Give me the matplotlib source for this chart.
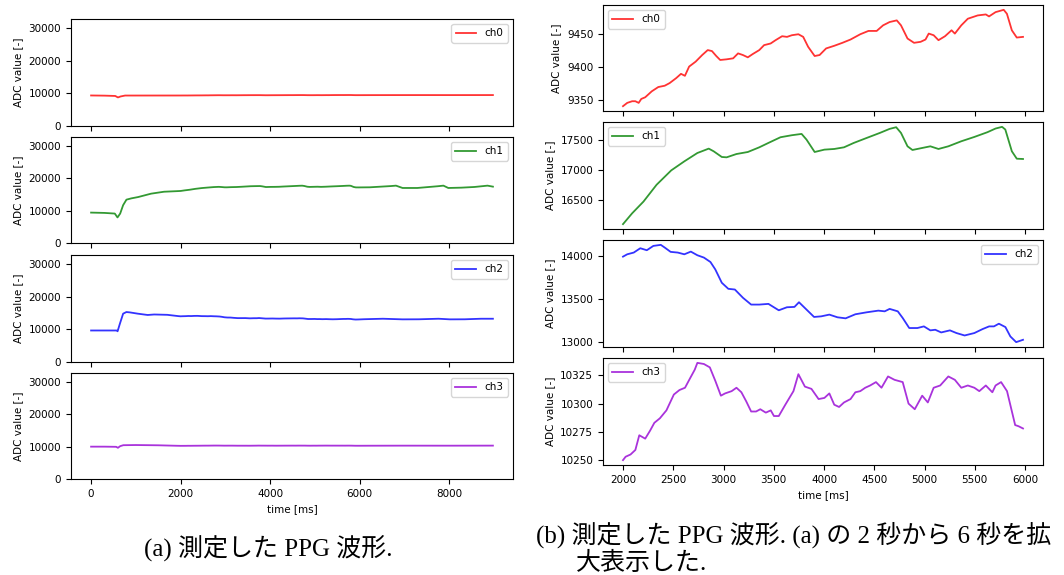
import matplotlib.pyplot as plt
from matplotlib.ticker import MultipleLocator

plt.rcParams['font.size'] = 7.5

# ---- 2000-6000 ms window, one time base per channel [ms] ----
t0_zoom = [2000, 2042, 2091, 2123, 2156, 2182, 2221, 2286, 2351, 2415, 2464, 2529, 2577, 2616, 2658,
           2723, 2788, 2843, 2885, 2928, 2967, 3031, 3096, 3145, 3193, 3242, 3291, 3356, 3404, 3469,
           3518, 3583, 3632, 3680, 3745, 3793, 3842, 3907, 3956, 4021, 4102, 4183, 4264, 4361, 4442,
           4524, 4588, 4653, 4724, 4766, 4831, 4896, 4961, 5010, 5042, 5091, 5139, 5204, 5269, 5302,
           5366, 5431, 5529, 5610, 5642, 5707, 5788, 5820, 5869, 5918, 5980]
ch0_zoom = [9340, 9345, 9347.5, 9347.5, 9345, 9351, 9353.5, 9362.5, 9369, 9371, 9375, 9382.5, 9389, 9386, 9400,
            9407.5, 9417.5, 9425, 9423.5, 9416, 9410, 9411, 9412.5, 9420, 9417.5, 9414, 9419, 9425, 9432.5, 9435,
            9440, 9446, 9445, 9447.5, 9449, 9445, 9430, 9416, 9417.5, 9427.5, 9431.5, 9436, 9441, 9449, 9454,
            9454, 9462.5, 9467.5, 9470, 9462.5, 9442.5, 9436, 9437.5, 9441, 9450, 9447.5, 9440, 9446, 9455, 9450,
            9462.5, 9472.5, 9477.5, 9479, 9476, 9482.5, 9486, 9480, 9455, 9444, 9445]

t1_zoom = [2000, 2091, 2204, 2334, 2480, 2610, 2740, 2853, 2902, 2983, 3031, 3129, 3242, 3356, 3453,
           3567, 3680, 3777, 3826, 3907, 4004, 4102, 4199, 4296, 4426, 4556, 4653, 4718, 4766, 4831,
           4880, 4977, 5058, 5139, 5237, 5366, 5496, 5626, 5707, 5772, 5804, 5869, 5918, 5980]
ch1_zoom = [16085, 16268, 16466, 16749, 16992, 17144, 17285, 17359, 17314, 17218, 17212, 17268, 17302, 17381, 17460,
            17551, 17585, 17607, 17511, 17302, 17342, 17353, 17381, 17455, 17540, 17624, 17692, 17720, 17624, 17398,
            17336, 17370, 17398, 17353, 17398, 17483, 17556, 17636, 17698, 17726, 17681, 17314, 17189, 17184]

t2_zoom = [2000, 2042, 2107, 2172, 2237, 2302, 2376, 2415, 2474, 2545, 2610, 2675, 2740, 2805, 2870,
           2918, 2983, 3048, 3113, 3194, 3275, 3356, 3447, 3550, 3631, 3706, 3751, 3826, 3901, 3972,
           4053, 4134, 4215, 4312, 4426, 4540, 4604, 4653, 4734, 4783, 4848, 4929, 4994, 5058, 5107,
           5166, 5253, 5318, 5399, 5496, 5578, 5643, 5691, 5740, 5805, 5854, 5912, 5980]
ch2_zoom = [13992, 14019, 14039, 14089, 14066, 14116, 14128, 14097, 14047, 14039, 14019, 14050, 14008, 13981, 13930,
            13845, 13690, 13620, 13612, 13516, 13438, 13438, 13446, 13372, 13407, 13411, 13465, 13380, 13295, 13302,
            13322, 13291, 13279, 13326, 13349, 13368, 13360, 13388, 13360, 13283, 13167, 13167, 13186, 13140, 13147,
            13116, 13140, 13109, 13081, 13109, 13155, 13186, 13186, 13217, 13178, 13070, 13004, 13031]

t3_zoom = [2000, 2026, 2075, 2123, 2162, 2221, 2269, 2312, 2367, 2432, 2506, 2562, 2617, 2659, 2714,
           2740, 2805, 2864, 2919, 2974, 3016, 3081, 3129, 3178, 3226, 3275, 3324, 3366, 3421, 3470,
           3502, 3550, 3615, 3696, 3745, 3810, 3875, 3946, 4004, 4053, 4102, 4150, 4199, 4264, 4312,
           4361, 4410, 4459, 4517, 4572, 4637, 4702, 4783, 4841, 4903, 4977, 5033, 5091, 5156, 5237,
           5302, 5366, 5431, 5496, 5545, 5610, 5675, 5707, 5762, 5821, 5902, 5935, 5980]
ch3_zoom = [10250, 10253, 10255, 10259, 10272, 10269, 10276, 10283, 10287, 10294, 10308, 10312, 10314, 10321, 10330,
            10336, 10335, 10332, 10320, 10307, 10309, 10311, 10314, 10310, 10302, 10293, 10293, 10295, 10292, 10294,
            10289, 10289, 10299, 10311, 10326, 10315, 10313, 10304, 10305, 10309, 10299, 10297, 10301, 10304, 10310,
            10311, 10314, 10316, 10319, 10314, 10324, 10321, 10319, 10300, 10295, 10307, 10301, 10314, 10316, 10324,
            10321, 10314, 10316, 10314, 10311, 10316, 10310, 10316, 10319, 10311, 10281, 10280, 10278]

# ---- rest of the full recording (before 2000 ms / after 6000 ms) ----
t0_head = [0, 300, 540, 600, 660, 760, 1000, 1500, 1900]
ch0_head = [9350, 9300, 9200, 8750, 9050, 9330, 9330, 9335, 9338]
t0_tail = [6200, 6800, 7400, 8000, 8600, 8980]
ch0_tail = [9455, 9465, 9470, 9465, 9470, 9475]

t1_head = [0, 300, 530, 590, 650, 716, 790, 900, 1050, 1340, 1630, 1920]
ch1_head = [9400, 9300, 9100, 7900, 9100, 11700, 13400, 13800, 14200, 15250, 15850, 16030]
t1_tail = [6230, 6700, 6814, 6961, 7290, 7750, 7874, 7983, 8276, 8568, 8860, 8980]
ch1_tail = [17220, 17600, 17730, 17010, 17010, 17550, 17730, 17010, 17110, 17320, 17730, 17420]

t2_head = [0, 570, 592, 643, 716, 789, 862, 1044, 1264, 1410, 1702, 1950]
ch2_head = [9650, 9650, 9400, 11700, 14800, 15300, 15200, 14800, 14400, 14550, 14450, 14050]
t2_tail = [6100, 6523, 6961, 7327, 7765, 8020, 8350, 8715, 8980]
ch2_tail = [13100, 13250, 13060, 13080, 13250, 13060, 13080, 13250, 13250]

t3_head = [0, 300, 560, 600, 650, 720, 1000, 1500, 1900]
ch3_head = [10000, 10000, 9950, 9650, 10150, 10450, 10500, 10420, 10280]
t3_tail = [6200, 7000, 8000, 8980]
ch3_tail = [10290, 10310, 10300, 10320]

names = ['ch0', 'ch1', 'ch2', 'ch3']
colors = ['red', 'green', 'blue', 'darkviolet']
zoom_t = [t0_zoom, t1_zoom, t2_zoom, t3_zoom]
zoom_v = [ch0_zoom, ch1_zoom, ch2_zoom, ch3_zoom]
head_t = [t0_head, t1_head, t2_head, t3_head]
head_v = [ch0_head, ch1_head, ch2_head, ch3_head]
tail_t = [t0_tail, t1_tail, t2_tail, t3_tail]
tail_v = [ch0_tail, ch1_tail, ch2_tail, ch3_tail]
right_legend_loc = ['upper left', 'upper left', 'upper right', 'upper left']
right_ytick_step = [50, 500, 500, 25]

W, H = 1064, 575


def px_box(x0, y0, x1, y1):
    # pixel box -> figure fraction [left, bottom, width, height]
    return [x0 / W, 1 - y1 / H, (x1 - x0) / W, (y1 - y0) / H]


left_boxes = [(71, 19, 513, 126), (71, 137, 513, 243), (71, 255, 513, 362), (71, 373, 513, 479)]
right_boxes = [(603, 5, 1043, 111), (603, 122, 1043, 229), (603, 240, 1043, 347), (603, 358, 1043, 465)]

fig = plt.figure(figsize=(10.64, 5.75), dpi=100)

# (a) whole recording
ax_prev = None
for i in range(4):
    ax = fig.add_axes(px_box(*left_boxes[i]), sharex=ax_prev)
    t = head_t[i] + zoom_t[i] + tail_t[i]
    v = head_v[i] + zoom_v[i] + tail_v[i]
    ax.plot(t, v, color=colors[i], alpha=0.8, lw=1.3, label=names[i])
    ax.set_ylim(0, 2 ** 15)
    ax.set_yticks([0, 10000, 20000, 30000])
    ax.set_ylabel('ADC value [-]')
    ax.legend(loc='upper right')
    if i < 3:
        ax.tick_params(labelbottom=False)
    else:
        ax.set_xlabel('time [ms]')
    ax_prev = ax

# (b) 2 s - 6 s
ax_prev = None
for i in range(4):
    ax = fig.add_axes(px_box(*right_boxes[i]), sharex=ax_prev)
    ax.plot(zoom_t[i], zoom_v[i], color=colors[i], alpha=0.8, lw=1.3, label=names[i])
    ax.yaxis.set_major_locator(MultipleLocator(right_ytick_step[i]))
    ax.set_ylabel('ADC value [-]')
    ax.legend(loc=right_legend_loc[i])
    if i < 3:
        ax.tick_params(labelbottom=False)
    else:
        ax.set_xlabel('time [ms]')
    ax_prev = ax

cap_font = ['Liberation Serif', 'Noto Sans CJK JP']
fig.text(268 / W, 1 - 549 / H, '(a) 測定した PPG 波形.', ha='center', va='center',
         fontsize=18, family=cap_font)
fig.text(536 / W, 1 - 535 / H, '(b) 測定した PPG 波形. (a) の 2 秒から 6 秒を拡', ha='left', va='center',
         fontsize=18, family=cap_font)
fig.text(576 / W, 1 - 563 / H, '大表示した.', ha='left', va='center',
         fontsize=18, family=cap_font)

fig.savefig('out.png', dpi=100)
